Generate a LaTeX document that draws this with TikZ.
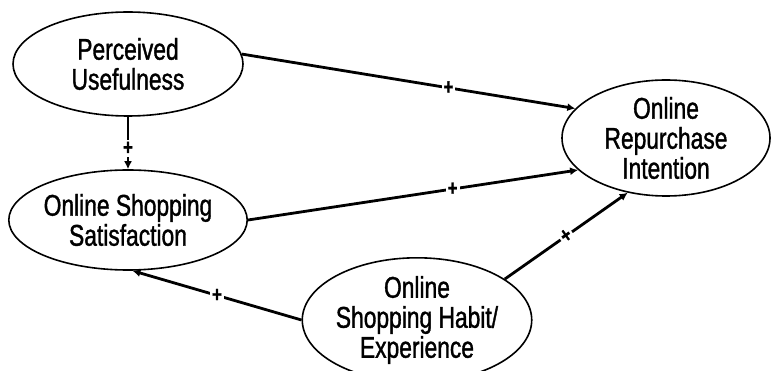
\documentclass[tikz,border=0pt]{standalone}
\usepackage{fontspec}
\setmainfont{Liberation Sans}[FakeStretch=0.76, FakeBold=1.2]
\usetikzlibrary{shapes.geometric,arrows.meta}

\begin{document}
\begin{tikzpicture}[x=1pt,y=-1pt,
  construct/.style={ellipse, draw, line width=1.6pt, inner sep=0pt,
    align=center, font=\fontsize{30}{30}\selectfont},
  link/.style={line width=2.8pt, -{Latex[length=8pt,width=8pt]}},
  sign/.style={fill=white, inner sep=2pt, font=\fontsize{22}{22}\selectfont\bfseries}
]
\useasboundingbox (0,0) rectangle (773,371);

% constructs of the model
\node[construct, minimum width=230pt, minimum height=104pt] (pu)  at (128,64)  {Perceived\\Usefulness};
\node[construct, minimum width=229pt, minimum height=100pt] (oss) at (128,220) {Online Shopping\\Satisfaction};
\node[construct, minimum width=208pt, minimum height=96pt]  (ori) at (666,138) {Online\\Repurchase\\Intention};
\node[construct, minimum width=226pt, minimum height=95pt]  (osh) at (417,320) {Online\\Shopping Habit/\\Experience};

% hypothesised positive effects
\draw[link] (pu.5)   -- node[sign, pos=0.62] (s1) {+} (ori.162);
\draw[link] (oss.east) -- node[sign, pos=0.62] (s2) {+} (ori.200);
\draw[link] (pu.south) -- node[sign, pos=0.6] (s3) {+} (oss.north);
\draw[link] (osh.25) -- node[sign, pos=0.5, sloped] (s4) {+} (ori.235);
\draw[link] (osh.west) -- node[sign, pos=0.5] (s5) {+} (oss.275);
\end{tikzpicture}
\end{document}
